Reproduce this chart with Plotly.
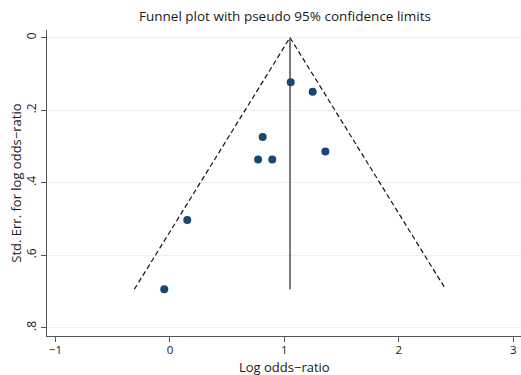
import plotly.graph_objects as go

# Study estimates (log odds-ratio) and their standard errors
log_or = [1.055, 1.247, 0.81, 1.358, 0.894, 0.77, 0.151, -0.05]
std_err = [0.123, 0.149, 0.274, 0.314, 0.336, 0.336, 0.503, 0.694]
pooled = 1.049
y_tickvals = [0, 0.2, 0.4, 0.6, 0.8]
y_ticktext = ["0", ".2", ".4", ".6", ".8"]
x_tickvals = [-1, 0, 1, 2, 3]
x_ticktext = ["\u22121", "0", "1", "2", "3"]

max_se = max(std_err)
z = 1.96

fig = go.Figure()
# pseudo 95% confidence limits
fig.add_trace(go.Scatter(
    x=[pooled - z * max_se, pooled, pooled + z * max_se],
    y=[max_se, 0, max_se],
    mode="lines",
    line=dict(color="#111111", width=1.2, dash="5px,3px"),
    showlegend=False, hoverinfo="skip"))
# pooled estimate line
fig.add_trace(go.Scatter(
    x=[pooled, pooled], y=[0, max_se], mode="lines",
    line=dict(color="#5a5a5a", width=1.6),
    showlegend=False, hoverinfo="skip"))
# studies
fig.add_trace(go.Scatter(
    x=log_or, y=std_err, mode="markers",
    marker=dict(color="#1a476f", size=8),
    showlegend=False))

font = "Open Sans, Lato, sans-serif"
fig.update_layout(
    width=521, height=375,
    margin=dict(l=47, r=0, t=30, b=39),
    paper_bgcolor="white", plot_bgcolor="white",
    font=dict(family=font, color="#1a1a1a", size=12),
    title=dict(text="Funnel plot with pseudo 95% confidence limits",
               x=0.547, xanchor="center", y=0.957, yanchor="middle",
               font=dict(size=13.5, family=font, color="#1a1a1a")),
    xaxis=dict(range=[-1.075, 3.068], tickvals=x_tickvals,
               ticktext=x_ticktext,
               showgrid=False, zeroline=False,
               showline=True, linecolor="#555555", linewidth=1.3,
               ticks="outside", ticklen=5, tickcolor="#555555",
               ticklabelstandoff=-2,
               tickfont=dict(size=11.5)),
    yaxis=dict(range=[0.823, -0.021], tickvals=y_tickvals,
               ticktext=y_ticktext, tickangle=-90,
               showgrid=True, gridcolor="#e8f0f1", gridwidth=1,
               zeroline=False,
               showline=True, linecolor="#555555", linewidth=1.3,
               ticks="outside", ticklen=5, tickcolor="#555555"),
    annotations=[
        dict(text="Std. Err. for log odds\u2212ratio",
             xref="paper", yref="paper", x=-0.066, y=0.5,
             xanchor="center", yanchor="middle", textangle=-90,
             showarrow=False, font=dict(size=13, family=font, color="#1a1a1a")),
        dict(text="Log odds\u2212ratio",
             xref="paper", yref="paper", x=0.5, y=-0.101,
             xanchor="center", yanchor="middle",
             showarrow=False, font=dict(size=13, family=font, color="#1a1a1a")),
    ],
)

fig.write_html("out.html")
